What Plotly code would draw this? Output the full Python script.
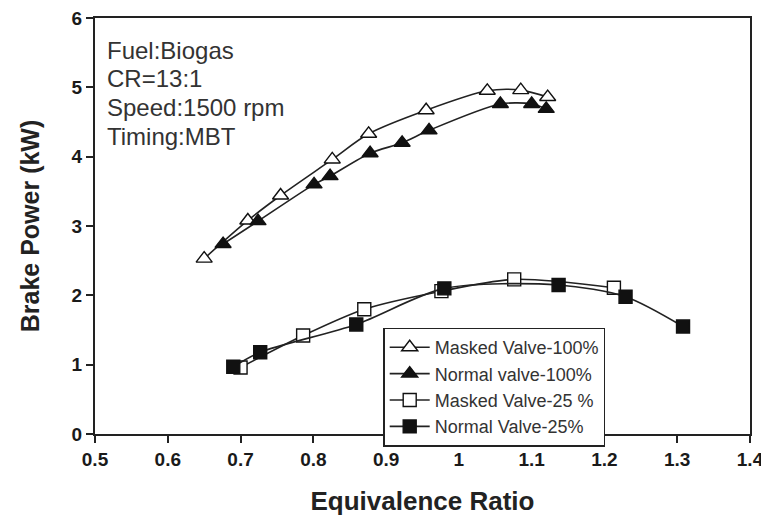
import plotly.graph_objects as go

# Masked valve 100%
mv100_x = [0.65, 0.71, 0.755, 0.826, 0.876, 0.955, 1.039, 1.085, 1.122]
mv100_y = [2.53, 3.08, 3.44, 3.96, 4.33, 4.67, 4.95, 4.96, 4.86]
# Normal valve 100%
nv100_x = [0.676, 0.724, 0.801, 0.823, 0.878, 0.922, 0.959, 1.057, 1.100, 1.120]
nv100_y = [2.74, 3.07, 3.60, 3.72, 4.05, 4.20, 4.38, 4.76, 4.76, 4.69]
# Masked valve 25%
mv25_x = [0.700, 0.786, 0.870, 0.976, 1.076, 1.213]
mv25_y = [0.96, 1.42, 1.80, 2.06, 2.23, 2.11]
# Normal valve 25%
nv25_x = [0.690, 0.727, 0.859, 0.980, 1.137, 1.229, 1.308]
nv25_y = [0.97, 1.18, 1.58, 2.10, 2.15, 1.98, 1.55]

x_ticks = [0.5, 0.6, 0.7, 0.8, 0.9, 1.0, 1.1, 1.2, 1.3, 1.4]
x_tick_labels = ["0.5", "0.6", "0.7", "0.8", "0.9", "1", "1.1", "1.2", "1.3", "1.4"]
y_ticks = [0, 1, 2, 3, 4, 5, 6]

info_lines = ["Fuel:Biogas", "CR=13:1", "Speed:1500 rpm", "Timing:MBT"]

FONT = "Liberation Sans, Arial, sans-serif"

fig = go.Figure()

def add(x, y, name, symbol, fill, size):
    fig.add_trace(go.Scatter(
        x=x, y=y, name=name, mode="lines+markers",
        line=dict(color="#222222", width=1.6, shape="spline", smoothing=0.8),
        marker=dict(symbol=symbol, size=size, color=fill,
                    line=dict(color="#111111", width=1.4)),
    ))

add(mv100_x, mv100_y, "Masked Valve-100%", "triangle-up", "white", 14)
add(nv100_x, nv100_y, "Normal valve-100%", "triangle-up", "#111111", 14)
add(mv25_x, mv25_y, "Masked Valve-25 %", "square", "white", 13)
add(nv25_x, nv25_y, "Normal Valve-25%", "square", "#111111", 13)

for i, t in enumerate(info_lines):
    fig.add_annotation(
        text=t, xref="paper", yref="paper", x=0.016, y=0.923 - i * 0.0695,
        xanchor="left", yanchor="middle", showarrow=False,
        font=dict(family=FONT, size=24, color="#333333"),
    )

tick_font = dict(family=FONT, size=19, color="#1a1a1a", weight=700)

fig.update_layout(
    width=761, height=512,
    margin=dict(l=87, r=19, t=10, b=86),
    paper_bgcolor="white", plot_bgcolor="white",
    showlegend=True,
    legend=dict(
        x=0.44, y=0.256, xanchor="left", yanchor="top",
        bordercolor="#222222", borderwidth=1.5, bgcolor="white",
        font=dict(family=FONT, size=18, color="#333333"),
        tracegroupgap=0, itemwidth=40,
    ),
    xaxis=dict(
        range=[0.5, 1.4], tickvals=x_ticks,
        ticktext=["<b>%s</b>" % t for t in x_tick_labels],
        showgrid=False, zeroline=False, automargin=False,
        showline=True, linecolor="#222222", linewidth=2, mirror=True,
        ticks="outside", ticklen=7, tickwidth=1.5, tickcolor="#222222",
        tickfont=tick_font, ticklabeloverflow="allow",
        title=dict(text="<b>Equivalence Ratio</b>", standoff=23,
                   font=dict(family=FONT, size=26, color="#222222")),
    ),
    yaxis=dict(
        range=[0, 6], tickvals=y_ticks,
        ticktext=["<b>%d</b>" % t for t in y_ticks],
        showgrid=False, zeroline=False, automargin=False,
        showline=True, linecolor="#222222", linewidth=2, mirror=True,
        ticks="outside", ticklen=7, tickwidth=1.5, tickcolor="#222222",
        tickfont=tick_font, ticklabeloverflow="allow",
        title=dict(text="<b>Brake Power (kW)</b>", standoff=25,
                   font=dict(family=FONT, size=25, color="#222222")),
    ),
)

fig.write_html("out.html")
